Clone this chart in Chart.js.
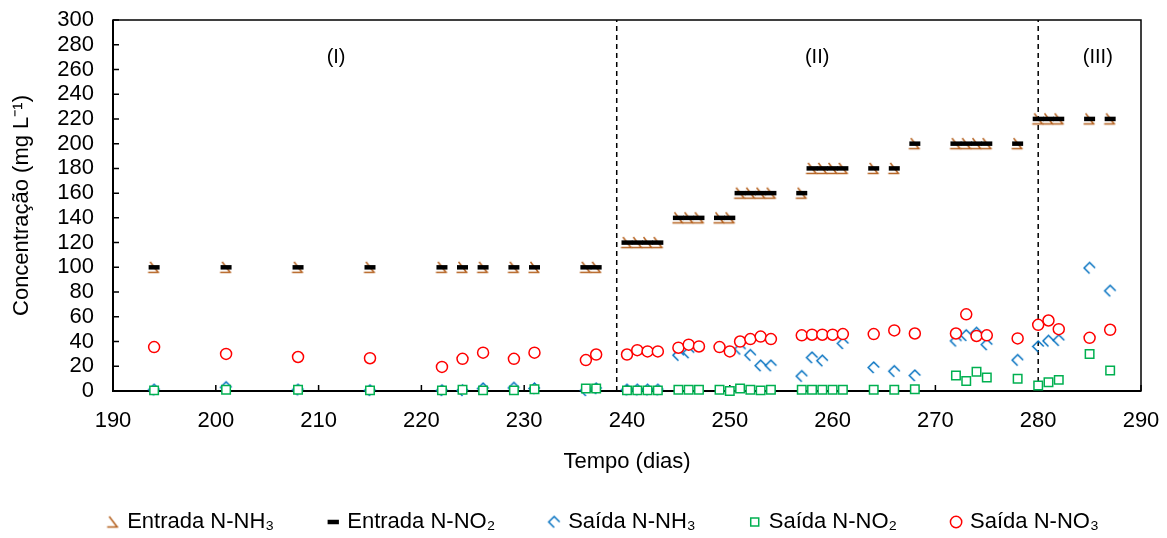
<!DOCTYPE html>
<html>
<head>
<meta charset="utf-8">
<script src="https://cdn.jsdelivr.net/npm/chart.js@4"></script>
<style>
  html, body { margin: 0; padding: 0; background: #fff; }
</style>
</head>
<body>
<canvas id="chart" width="1167" height="538"></canvas>
<script>
// dias de operação (mesmos para entrada e saída)
const dias = [194, 201, 208, 215, 222, 224, 226, 229, 231, 236, 237,
  240, 241, 242, 243, 245, 246, 247, 249, 250, 251, 252, 253, 254,
  257, 258, 259, 260, 261, 264, 266, 268, 272, 273, 274, 275, 278,
  280, 281, 282, 285, 287];

const entradaNH3 = [100, 100, 100, 100, 100, 100, 100, 100, 100, 100, 100,
  120, 120, 120, 120, 140, 140, 140, 140, 140, 160, 160, 160, 160,
  160, 180, 180, 180, 180, 180, 180, 200, 200, 200, 200, 200, 200,
  220, 220, 220, 220, 220];
const entradaNO2 = [100, 100, 100, 100, 100, 100, 100, 100, 100, 100, 100,
  120, 120, 120, 120, 140, 140, 140, 140, 140, 160, 160, 160, 160,
  160, 180, 180, 180, 180, 180, 180, 200, 200, 200, 200, 200, 200,
  220, 220, 220, 220, 220];
const saidaNH3 = [1, 3, 1, 0.5, 0.5, 0.5, 2, 2.5, 2, 0.5, 2,
  1, 1, 1, 1, 29, 31, null, null, null, 34, 29, 20.5, 20.5,
  12, 27, 24.5, null, 38.5, 19, 16, 12.5, 40.5, 45, 47, 37.5, 25,
  36, 40.5, 41, 99.5, 81];
const saidaNO2 = [0.5, 1, 1, 0.5, 0.5, 1, 0.5, 0.5, 1.5, 2, 2,
  0.5, 0.5, 0.5, 0.5, 1, 1, 1, 1, 0, 2, 1, 0.5, 1,
  1, 1, 1, 1, 1, 1, 1, 1.5, 12.5, 8, 15.5, 11, 10,
  4.5, 7, 9, 30, 16.5];
const saidaNO3 = [35.5, 30, 27.5, 26.5, 19.5, 26, 31, 26, 31, 25, 29.5,
  29.5, 33, 32, 32, 35, 37.5, 36, 35.5, 32, 40, 42, 44, 42,
  45, 45.5, 45.5, 45.5, 46, 46, 49, 46.5, 46.5, 62, 44.5, 45, 42.5,
  53.5, 57, 50, 43, 49.5];

// divisões entre fases
const divisoes = [239, 280];
const fases = ['(I)', '(II)', '(III)'];
const fasesDia = [211.7, 258.5, 285.8];
const fasesY = 270;

const FONTE = "'Liberation Sans', Arial, sans-serif";
Chart.defaults.font.family = FONTE;
Chart.defaults.color = '#000';

function pontos(valores) {
  return dias.map((d, i) => ({ x: d, y: valores[i] }));
}

// marcadores desenhados à mão
function marcador(desenha) {
  const c = document.createElement('canvas');
  c.width = 15; c.height = 15;
  const g = c.getContext('2d');
  g.lineWidth = 1.5;
  desenha(g);
  return c;
}

const marcaEntradaNH3 = marcador(g => {
  g.strokeStyle = '#B4601E';
  g.beginPath();
  g.moveTo(3.5, 2);
  g.lineTo(11.5, 12.5);
  g.moveTo(1.5, 12.5);
  g.lineTo(12.5, 12.5);
  g.stroke();
});

const marcaSaidaNH3 = marcador(g => {
  g.strokeStyle = '#0070C0';
  g.beginPath();
  g.moveTo(13, 7.5);
  g.lineTo(7.5, 2);
  g.lineTo(2, 7.5);
  g.lineTo(7.5, 13);
  g.stroke();
});

const datasets = [
  { label: 'Entrada N-NH₃', data: pontos(entradaNH3), pointStyle: marcaEntradaNH3,
    borderColor: '#B4601E', backgroundColor: '#B4601E', order: 4 },
  { label: 'Entrada N-NO₂', data: pontos(entradaNO2), pointStyle: 'line', pointRadius: 5.5,
    borderColor: '#000', backgroundColor: '#000', borderWidth: 4.5, pointBorderWidth: 4.5, order: 3 },
  { label: 'Saída N-NH₃', data: pontos(saidaNH3), pointStyle: marcaSaidaNH3,
    borderColor: '#0070C0', backgroundColor: '#0070C0', order: 2 },
  { label: 'Saída N-NO₂', data: pontos(saidaNO2), pointStyle: 'rect', pointRadius: 6,
    borderColor: '#00B050', backgroundColor: '#fff', borderWidth: 1.5, pointBorderWidth: 1.5, order: 1 },
  { label: 'Saída N-NO₃', data: pontos(saidaNO3), pointStyle: 'circle', pointRadius: 5.5,
    borderColor: '#FF0000', backgroundColor: '#fff', borderWidth: 1.5, pointBorderWidth: 1.5, order: 0 }
];

divisoes.forEach(d => {
  datasets.push({
    type: 'line', label: 'divisao', data: [{ x: d, y: 0 }, { x: d, y: 300 }],
    borderColor: '#000', borderWidth: 1.5, borderDash: [5, 4], pointRadius: 0, order: 10
  });
});

datasets.forEach(ds => { ds.clip = false; ds.pointHoverRadius = ds.pointRadius; });

// moldura, marcas internas dos eixos e rótulos das fases
const moldura = {
  id: 'moldura',
  beforeDatasetsDraw(chart) {
    const { ctx, chartArea: a, scales: { x, y } } = chart;
    ctx.save();
    ctx.strokeStyle = '#000';
    ctx.lineWidth = 1.5;
    ctx.strokeRect(a.left, a.top, a.right - a.left, a.bottom - a.top);
    ctx.lineWidth = 2;
    ctx.beginPath();
    ctx.moveTo(a.left, a.top); ctx.lineTo(a.left, a.bottom); ctx.lineTo(a.right, a.bottom);
    ctx.stroke();
    ctx.lineWidth = 1.5;
    ctx.beginPath();
    x.ticks.forEach(t => {
      const px = x.getPixelForValue(t.value);
      ctx.moveTo(px, a.bottom); ctx.lineTo(px, a.bottom - 6);
    });
    y.ticks.forEach(t => {
      const py = y.getPixelForValue(t.value);
      ctx.moveTo(a.left, py); ctx.lineTo(a.left + 6, py);
    });
    ctx.stroke();
    ctx.fillStyle = '#000';
    ctx.font = '20px ' + FONTE;
    ctx.textAlign = 'center';
    ctx.textBaseline = 'middle';
    fases.forEach((f, i) => {
      ctx.fillText(f, x.getPixelForValue(fasesDia[i]), y.getPixelForValue(fasesY));
    });
    ctx.restore();
  }
};

// desloca a legenda para a posição do original (só o topo, para não cortar o texto)
const posLegenda = {
  id: 'posLegenda',
  afterLayout(chart) {
    const lg = chart.legend;
    lg.left += 34; lg.right += 34;
    lg.top -= 20;
  }
};

new Chart(document.getElementById('chart'), {
  type: 'scatter',
  data: { datasets },
  options: {
    responsive: false,
    animation: false,
    layout: { padding: { top: 20, right: 26, bottom: 0, left: 0 } },
    scales: {
      x: {
        type: 'linear', min: 190, max: 290,
        ticks: { stepSize: 10, padding: 17, autoSkip: false, maxRotation: 0, font: { size: 22 }, color: '#000' },
        grid: { display: false, drawTicks: false },
        border: { display: false },
        title: { display: true, text: 'Tempo (dias)', font: { size: 22 }, color: '#000', padding: 0 },
        afterFit: s => { s.height = 84; s.paddingLeft = 0; s.paddingRight = 0; }
      },
      y: {
        min: 0, max: 300,
        ticks: { stepSize: 20, padding: 19, autoSkip: false, font: { size: 22 }, color: '#000' },
        grid: { display: false, drawTicks: false },
        border: { display: false },
        title: { display: true, text: 'Concentração (mg L⁻¹)', font: { size: 22 }, color: '#000',
          padding: { top: 9, bottom: 0 } },
        afterFit: s => { s.width = 113; s.paddingTop = 0; s.paddingBottom = 0; }
      }
    },
    plugins: {
      tooltip: { enabled: false },
      legend: {
        position: 'bottom',
        maxHeight: 63,
        labels: {
          usePointStyle: true,
          boxWidth: 6,
          boxHeight: 8,
          padding: 56,
          color: '#000',
          font: { size: 22 },
          filter: item => item.datasetIndex < 5,
          sort: (a, b) => a.datasetIndex - b.datasetIndex
        }
      }
    }
  },
  plugins: [moldura, posLegenda]
});
</script>
</body>
</html>
